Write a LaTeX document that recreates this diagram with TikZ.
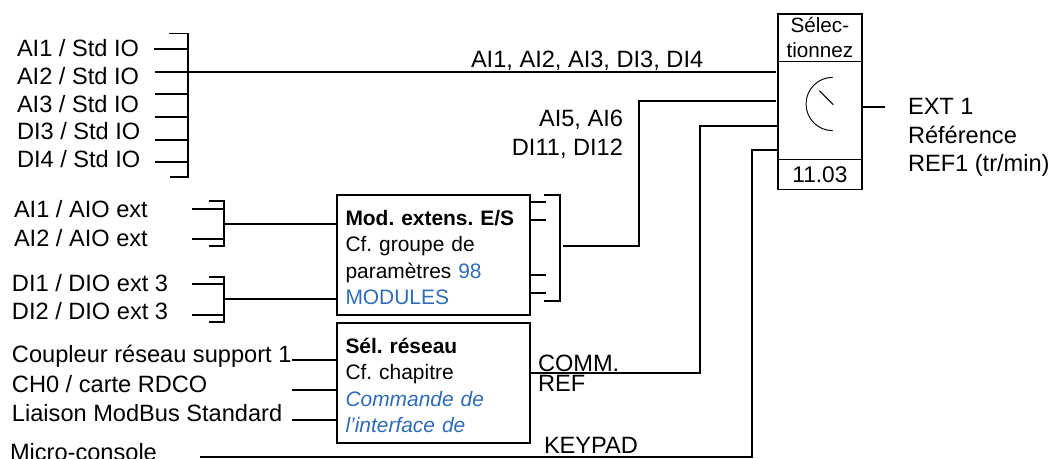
\documentclass[tikz,border=0pt]{standalone}
\usepackage{fontspec}
\setmainfont{Liberation Sans}
\usepackage{xcolor}
\begin{document}
\begin{tikzpicture}[x=.75pt,y=-.75pt,
  lbl/.style={inner sep=0pt,outer sep=0pt,anchor=west,text height=12.7pt,text depth=0pt,font=\fontsize{17.7}{20}\selectfont},
  lblr/.style={lbl,anchor=east},
  wire/.style={line width=1.25pt},
  thinwire/.style={line width=.7pt},
  infobox/.style={draw,line width=1.25pt,anchor=north west,inner xsep=6pt,inner ysep=0pt,outer sep=0pt,minimum width=144.75pt,align=left,text width=132pt,text height=15pt,font=\fontsize{15.7}{19.9}\selectfont\frenchspacing},
  selbox/.style={draw,line width=1.25pt,anchor=north west,inner sep=0pt,outer sep=0pt,minimum width=62.8pt,align=center,font=\fontsize{15.5}{18.7}\selectfont}]
\definecolor{linkblue}{RGB}{46,108,184}
\useasboundingbox (0,0) rectangle (1053,459);
% std io inputs
\node[lbl] (aistd1) at (17,48) {AI1 / Std IO};
\node[lbl] (aistd2) at (17,76) {AI2 / Std IO};
\node[lbl] (aistd3) at (17,104) {AI3 / Std IO};
\node[lbl] (distd3) at (17,131) {DI3 / Std IO};
\node[lbl] (distd4) at (17,159) {DI4 / Std IO};
\coordinate (stdtop) at (169,33.5);
\coordinate (stdbot) at (170,177);
\coordinate (stdbus) at (188,72);
\draw[wire] (stdtop) -- (stdtop -| stdbus) -- (stdbot -| stdbus) -- (stdbot);
\coordinate (stdtick1) at (154,48.7);
\coordinate (stdtick2) at (155,72);
\coordinate (stdtick3) at (155,94);
\coordinate (stdtick4) at (155,117);
\coordinate (stdtick5) at (155,140);
\coordinate (stdtick6) at (155,162);
\draw[wire] (stdtick1) -- (stdtick1 -| stdbus);
\draw[wire] (stdtick3) -- (stdtick3 -| stdbus);
\draw[wire] (stdtick4) -- (stdtick4 -| stdbus);
\draw[wire] (stdtick5) -- (stdtick5 -| stdbus);
\draw[wire] (stdtick6) -- (stdtick6 -| stdbus);
% extension inputs
\node[lbl] (aiext1) at (14,209.5) {AI1 / AIO ext};
\node[lbl] (aiext2) at (14,238) {AI2 / AIO ext};
\node[lbl] (diext1) at (12,282.7) {DI1 / DIO ext 3};
\node[lbl] (diext2) at (12,310.7) {DI2 / DIO ext 3};
\node[infobox,minimum height=90pt] (modbox) at (337,195)
  {\textbf{Mod. extens. E/S}\\Cf. groupe de\\paramètres \textcolor{linkblue}{98}\\\textcolor{linkblue}{MODULES}};
\coordinate (aiotop) at (209,201);
\coordinate (aiobot) at (209,245.7);
\coordinate (aiobus) at (224,224);
\draw[wire] (aiotop) -- (aiotop -| aiobus) -- (aiobot -| aiobus) -- (aiobot);
\coordinate (aiotick1) at (192,209);
\coordinate (aiotick2) at (192,239);
\draw[wire] (aiotick1) -- (aiotick1 -| aiobus);
\draw[wire] (aiotick2) -- (aiotick2 -| aiobus);
\draw[wire] (aiobus) -- (aiobus -| modbox.west);
\coordinate (diotop) at (209,277);
\coordinate (diobot) at (209,321.7);
\coordinate (diobus) at (224,299);
\draw[wire] (diotop) -- (diotop -| diobus) -- (diobot -| diobus) -- (diobot);
\coordinate (diotick1) at (192,283.7);
\coordinate (diotick2) at (192,315);
\draw[wire] (diotick1) -- (diotick1 -| diobus);
\draw[wire] (diotick2) -- (diotick2 -| diobus);
\draw[wire] (diobus) -- (diobus -| modbox.west);
% network inputs
\node[lbl] (coupler) at (12,354) {Coupleur réseau support 1};
\node[lbl] (rdco) at (12,384) {CH0 / carte RDCO};
\node[lbl] (modbus) at (12,413) {Liaison ModBus Standard};
\node[lbl] (keypad) at (10,451.7) {Micro-console};
\node[infobox,minimum height=89.6pt] (netbox) at (337,323.3)
  {\textbf{Sél. réseau}\\Cf. chapitre\\\textcolor{linkblue}{\textit{Commande de}}\\\textcolor{linkblue}{\textit{l'interface de}}};
\coordinate (nettick1) at (292,360);
\coordinate (nettick2) at (292,390);
\coordinate (nettick3) at (292,420);
\draw[wire] (nettick1) -- (nettick1 -| netbox.west);
\draw[wire] (nettick2) -- (nettick2 -| netbox.west);
\draw[wire] (nettick3) -- (nettick3 -| netbox.west);
% selector
\node[selbox,minimum height=35.6pt] (seltop) at (778,14) {Sélec-\\tionnez};
\node[selbox,minimum height=73.5pt] (seldial) at (seltop.south west) {};
\node[selbox,minimum height=22.5pt,font=\fontsize{17}{20}\selectfont] (selpar) at (seldial.south west) {11.03};
\coordinate (dial) at (832.7,104);
\draw[thinwire] ([yshift=20pt]dial) arc[start angle=90,end angle=270,radius=20pt];
\coordinate (needle) at (819.3,90.7);
\draw[thinwire] (needle) -- (833.3,104.7);
% connections to selector
\coordinate (selin1) at (776,72);
\draw[wire] (stdtick2) -- (selin1);
\coordinate (modout1) at (546,201.7);
\coordinate (modout2) at (546,219.7);
\coordinate (modout3) at (546,274.7);
\coordinate (modout4) at (546,292.7);
\draw[wire] (modout1 -| modbox.east) -- (modout1);
\draw[wire] (modout2 -| modbox.east) -- (modout2);
\draw[wire] (modout3 -| modbox.east) -- (modout3);
\draw[wire] (modout4 -| modbox.east) -- (modout4);
\coordinate (modtop) at (544,195);
\coordinate (modbot) at (544,300.7);
\coordinate (modbus) at (560,245.7);
\draw[wire] (modtop) -- (modtop -| modbus) -- (modbot -| modbus) -- (modbot);
\coordinate (modstart) at (563,245.7);
\coordinate (selin2) at (776,101);
\draw[wire] (modstart) -- (639,245.7) -- (639,101) -- (selin2);
\coordinate (netout) at (530,373.3);
\coordinate (selin3) at (777,126);
\draw[wire] (netout) -- (700,373.3) -- (700,126) -- (selin3);
\coordinate (keystart) at (200,457);
\coordinate (selin4) at (777,150);
\draw[wire] (keystart) -- (752,457) -- (752,150) -- (selin4);
% output
\coordinate (selout) at (885,107);
\draw[wire] (selout -| seldial.east) -- (selout);
\node[lbl] (ext) at (908,106) {EXT 1};
\node[lbl] (refname) at (908,135) {Référence};
\node[lbl] (refunit) at (908,163) {REF1 (tr/min)};
% signal labels
\node[lbl] (stdsig) at (471,59) {AI1, AI2, AI3, DI3, DI4};
\node[lblr] (aisig) at (623,118) {AI5, AI6};
\node[lblr] (disig) at (623,147) {DI11, DI12};
\node[lbl] (commsig) at (538,362.7) {COMM.};
\node[lbl] (refsig) at (538,383.3) {REF};
\node[lbl] (keysig) at (544,445) {KEYPAD};
\end{tikzpicture}
\end{document}
